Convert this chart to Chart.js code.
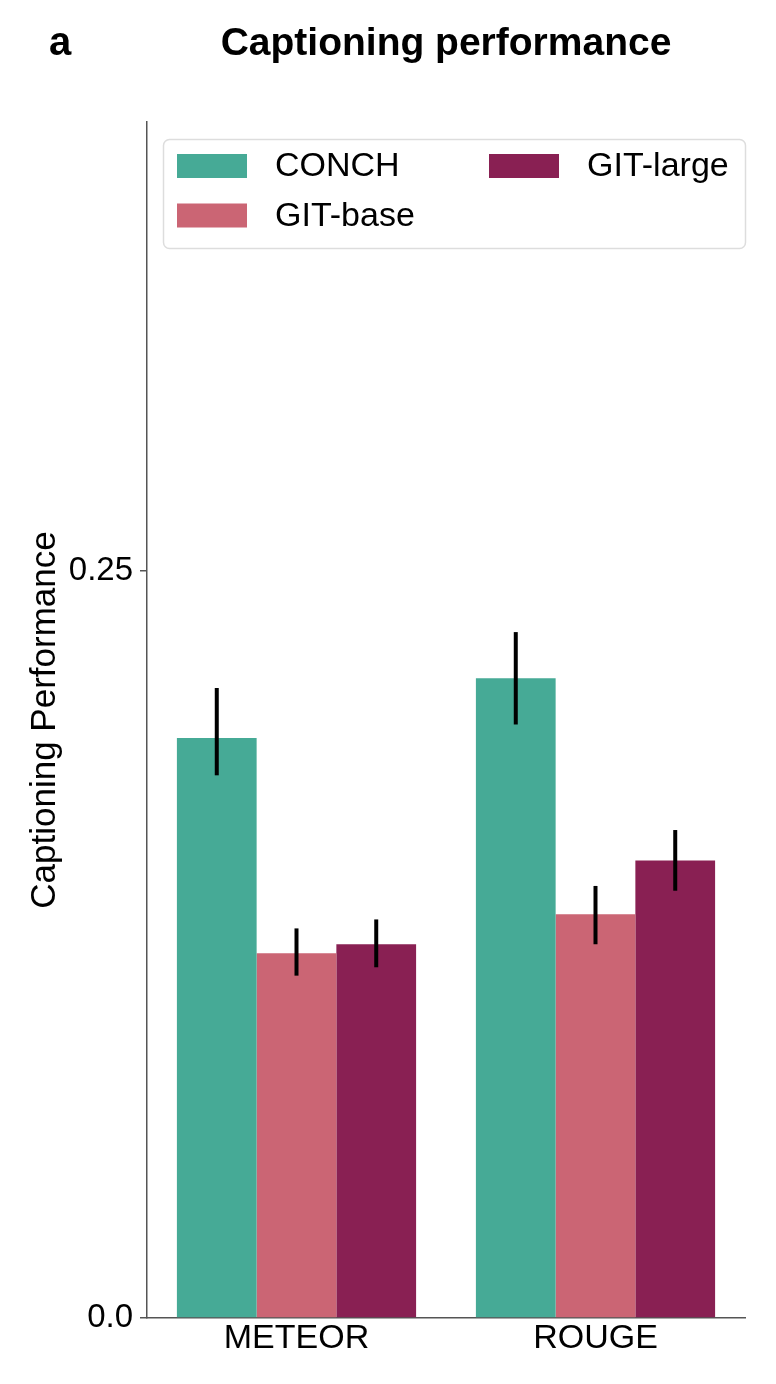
<!DOCTYPE html>
<html>
<head>
<meta charset="utf-8">
<title>Captioning performance</title>
<script src="https://cdn.jsdelivr.net/npm/chart.js@4.4.1/dist/chart.umd.min.js"></script>
<style>
    html, body {
        margin: 0;
        padding: 0;
        background: #ffffff;
    }
    canvas {
        display: block;
    }
</style>
</head>
<body>
<canvas id="captionChart" width="776" height="1384"></canvas>
<script>

// ======================================
// Data
// ======================================

const categories = ["METEOR", "ROUGE"];
const seriesNames = ["CONCH", "GIT-base", "GIT-large"];

const conchValues = [0.194, 0.214];
const gitBaseValues = [0.122, 0.135];
const gitLargeValues = [0.125, 0.153];

// lower / upper ends of the error bars
const conchErrLow = [0.1815, 0.1985];
const conchErrHigh = [0.2107, 0.2294];
const gitBaseErrLow = [0.1145, 0.125];
const gitBaseErrHigh = [0.1303, 0.1445];
const gitLargeErrLow = [0.1173, 0.1429];
const gitLargeErrHigh = [0.1333, 0.1632];

const yTicks = [0, 0.25];
const yTickLabels = ["0.0", "0.25"];

const colors = ["#46aa96", "#cb6574", "#892053"];

const FONT = '"Liberation Sans", Arial, Helvetica, sans-serif';

Chart.defaults.font.family = FONT;
Chart.defaults.color = "#000000";

// ======================================
// Error bars
// ======================================

const errorBarPlugin = {
    id: "errorBars",
    afterDatasetsDraw(chart) {
        const ctx = chart.ctx;
        const yScale = chart.scales.y;

        ctx.save();
        ctx.strokeStyle = "#000000";
        ctx.lineWidth = 4;

        chart.data.datasets.forEach((ds, d) => {
            const meta = chart.getDatasetMeta(d);
            meta.data.forEach((bar, i) => {
                const yLow = yScale.getPixelForValue(ds.errLow[i]);
                const yHigh = yScale.getPixelForValue(ds.errHigh[i]);
                ctx.beginPath();
                ctx.moveTo(bar.x, yLow);
                ctx.lineTo(bar.x, yHigh);
                ctx.stroke();
            });
        });

        ctx.restore();
    }
};

// ======================================
// Title, panel letter and boxed legend
// ======================================

const decorPlugin = {
    id: "decor",
    afterDraw(chart) {
        const ctx = chart.ctx;
        const area = chart.chartArea;

        ctx.save();

        // panel letter + title
        ctx.fillStyle = "#000000";
        ctx.textBaseline = "alphabetic";
        ctx.font = "bold 40px " + FONT;
        ctx.textAlign = "left";
        ctx.fillText("a", 49, 55);

        ctx.font = "bold 39px " + FONT;
        ctx.textAlign = "center";
        ctx.fillText("Captioning performance", (area.left + area.right) / 2, 55);

        // legend frame
        ctx.beginPath();
        ctx.roundRect(163.5, 139.5, 582, 109, 6);
        ctx.fillStyle = "rgba(255,255,255,0.8)";
        ctx.fill();
        ctx.strokeStyle = "#dddddd";
        ctx.lineWidth = 1.5;
        ctx.stroke();

        // legend entries, filled column by column (2 columns)
        const items = chart.data.datasets;
        const rows = Math.ceil(items.length / 2);
        const colX = [177, 489];
        const rowY = [166, 215.5];

        ctx.font = "34px " + FONT;
        ctx.textAlign = "left";
        ctx.textBaseline = "middle";

        items.forEach((ds, i) => {
            const col = Math.floor(i / rows);
            const row = i % rows;
            const x = colX[col];
            const y = rowY[row];

            ctx.fillStyle = ds.backgroundColor;
            ctx.fillRect(x, y - 12, 70, 24);

            ctx.fillStyle = "#000000";
            ctx.fillText(ds.label, x + 98, y + 1);
        });

        ctx.restore();
    }
};

// ======================================
// Chart
// ======================================

const ctx = document.getElementById("captionChart").getContext("2d");

new Chart(ctx, {

    type: "bar",

    data: {

        labels: categories,

        datasets: [
            {
                label: seriesNames[0],
                data: conchValues,
                errLow: conchErrLow,
                errHigh: conchErrHigh,
                backgroundColor: colors[0]
            },
            {
                label: seriesNames[1],
                data: gitBaseValues,
                errLow: gitBaseErrLow,
                errHigh: gitBaseErrHigh,
                backgroundColor: colors[1]
            },
            {
                label: seriesNames[2],
                data: gitLargeValues,
                errLow: gitLargeErrLow,
                errHigh: gitLargeErrHigh,
                backgroundColor: colors[2]
            }
        ]

    },

    options: {

        responsive: false,
        animation: false,
        devicePixelRatio: 1,

        layout: {
            padding: { top: 122, right: 31, left: 0, bottom: 0 }
        },

        datasets: {
            bar: {
                categoryPercentage: 0.8,
                barPercentage: 1.0,
                borderWidth: 0
            }
        },

        plugins: {
            legend: { display: false },
            tooltip: { enabled: false },
            title: { display: false }
        },

        scales: {

            x: {
                grid: {
                    display: false,
                    drawTicks: false
                },
                border: {
                    display: true,
                    color: "#555555",
                    width: 1.5
                },
                ticks: {
                    font: { size: 34 },
                    padding: 0,
                    maxRotation: 0
                },
                afterFit(scale) {
                    scale.height = 66;
                }
            },

            y: {
                min: 0,
                max: 0.4,
                grid: {
                    drawOnChartArea: false,
                    drawTicks: true,
                    tickLength: 7,
                    color: "#555555",
                    lineWidth: 1.5
                },
                border: {
                    display: true,
                    color: "#555555",
                    width: 1.5
                },
                ticks: {
                    font: { size: 33 },
                    padding: 7,
                    callback: function (value, index) {
                        return yTickLabels[index];
                    }
                },
                afterBuildTicks(scale) {
                    scale.ticks = yTicks.map(v => ({ value: v }));
                },
                title: {
                    display: true,
                    text: "Captioning Performance",
                    font: { size: 35 },
                    padding: { top: 24, bottom: 0 }
                },
                afterFit(scale) {
                    scale.width = 147;
                }
            }

        }

    },

    plugins: [errorBarPlugin, decorPlugin]

});

</script>
</body>
</html>
